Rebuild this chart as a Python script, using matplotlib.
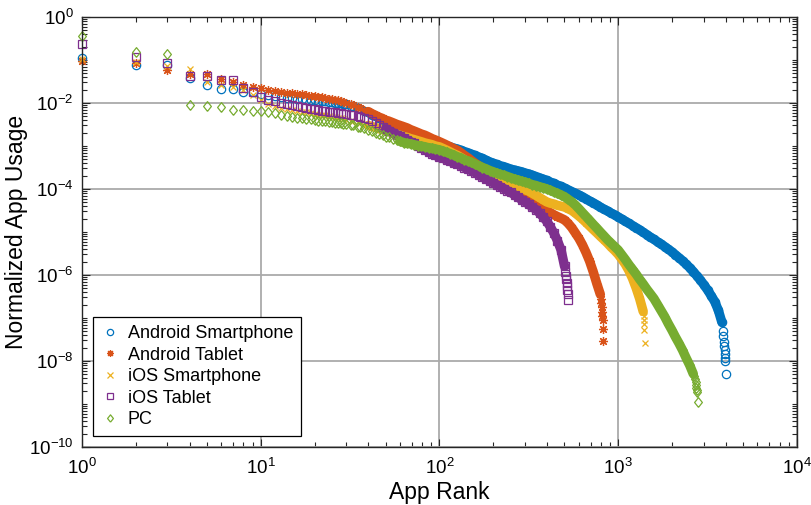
import numpy as np
import matplotlib
matplotlib.use('Agg')
import matplotlib.pyplot as plt
from matplotlib.ticker import LogLocator, FixedLocator, NullFormatter, LogFormatterSciNotation

plt.rcParams['font.family'] = ['Liberation Sans', 'DejaVu Sans']
plt.rcParams['mathtext.default'] = 'regular'
plt.rcParams['axes.unicode_minus'] = False

#%% Data (usage kept as log10 exponents)
# ranks 1..30 shown one by one, beyond that the curves are sampled
head_rank = list(range(1, 31))
grid_rank = [32, 33, 35, 36, 38, 40, 42, 44, 46, 48, 50, 52, 55, 58, 60, 63, 66, 69, 72, 76, 79, 83, 87, 91, 95,
             100, 105, 110, 115, 120, 126, 132, 138, 145, 151, 158, 166, 174, 182, 191, 200, 209, 219, 229, 240,
             251, 263, 275, 288, 302, 316, 331, 347, 363, 380, 398, 417, 437, 457, 479, 501, 525, 550, 575, 603,
             631, 661, 692, 724, 759, 794, 832, 871, 912, 955, 1000, 1047, 1096, 1148, 1202, 1259, 1318, 1380,
             1445, 1514, 1585, 1660, 1738, 1820, 1905, 1995, 2089, 2188, 2291, 2399, 2512, 2630, 2754, 2884,
             3020, 3162, 3311, 3467, 3631, 3802]

# Android Smartphone
as_head = [-0.95, -1.12, -1.12, -1.41, -1.58, -1.67, -1.67, -1.74, -1.75, -1.79,
           -1.82, -1.84, -1.86, -1.88, -1.89, -1.90, -1.91, -1.92, -1.93, -1.94,
           -1.95, -1.96, -1.96, -1.97, -1.98, -1.99, -2.00, -2.01, -2.02, -2.03]
as_grid = [-2.06, -2.08, -2.12, -2.14, -2.18, -2.22, -2.27, -2.31, -2.35, -2.39,
           -2.43, -2.46, -2.50, -2.54, -2.56, -2.60, -2.64, -2.67, -2.70, -2.75,
           -2.78, -2.81, -2.85, -2.88, -2.91,
           -2.95, -2.97, -3.00, -3.02, -3.05, -3.07, -3.10, -3.13, -3.16, -3.19,
           -3.22, -3.26, -3.29, -3.33, -3.37, -3.40, -3.43, -3.46, -3.48, -3.51,
           -3.54, -3.56, -3.58, -3.60, -3.63, -3.65, -3.68, -3.71, -3.74, -3.77,
           -3.80, -3.84, -3.87, -3.91, -3.94, -3.98, -4.02, -4.06, -4.10, -4.14,
           -4.18, -4.23, -4.28, -4.32, -4.37, -4.42, -4.47, -4.51, -4.56, -4.60,
           -4.65, -4.70, -4.75, -4.80, -4.85, -4.90, -4.95, -5.01, -5.06, -5.12,
           -5.17, -5.23, -5.28, -5.34, -5.40, -5.46, -5.53, -5.60, -5.67, -5.75,
           -5.83, -5.92, -6.02, -6.12, -6.23, -6.35, -6.48, -6.62, -6.82, -7.10]
as_tail_rank = [3850, 3880, 3905, 3925, 3940, 3955, 3965, 3975, 3990]
as_tail = [-7.30, -7.42, -7.55, -7.65, -7.75, -7.83, -7.92, -8.00, -8.30]

# Android Tablet
at_head = [-1.03, -1.08, -1.23, -1.33, -1.33, -1.45, -1.50, -1.58, -1.62, -1.66,
           -1.69, -1.72, -1.74, -1.76, -1.77, -1.79, -1.80, -1.82, -1.83, -1.84,
           -1.86, -1.87, -1.88, -1.90, -1.91, -1.93, -1.94, -1.96, -1.98, -2.00]
at_grid = [-2.03, -2.05, -2.09, -2.12, -2.16, -2.20, -2.25, -2.29, -2.33, -2.36,
           -2.40, -2.42, -2.46, -2.50, -2.52, -2.55, -2.58, -2.62, -2.65, -2.69,
           -2.72, -2.75, -2.79, -2.83, -2.86,
           -2.90, -2.94, -2.98, -3.02, -3.06, -3.10, -3.16, -3.22, -3.28, -3.34,
           -3.40, -3.46, -3.51, -3.57, -3.62, -3.68, -3.73, -3.79, -3.84, -3.90,
           -3.95, -4.00, -4.06, -4.11, -4.17, -4.22, -4.28, -4.33, -4.39, -4.44,
           -4.50, -4.55, -4.60, -4.64, -4.68, -4.72, -4.80, -4.90, -5.02, -5.15,
           -5.30, -5.48, -5.68, -5.92, -6.20, -6.45]
at_tail_rank = [802, 806, 809, 812, 815, 818, 821, 825]
at_tail = [-6.55, -6.65, -6.75, -6.85, -6.95, -7.05, -7.26, -7.53]

# iOS Smartphone
is_head = [-0.98, -1.05, -1.15, -1.22, -1.50, -1.58, -1.62, -1.70, -1.82, -1.93,
           -2.02, -2.08, -2.12, -2.15, -2.17, -2.19, -2.21, -2.22, -2.24, -2.25,
           -2.27, -2.28, -2.29, -2.31, -2.32, -2.33, -2.35, -2.36, -2.38, -2.39]
is_grid = [-2.41, -2.42, -2.45, -2.47, -2.50, -2.52, -2.55, -2.57, -2.60, -2.62,
           -2.64, -2.66, -2.70, -2.73, -2.75, -2.78, -2.80, -2.83, -2.85, -2.88,
           -2.90, -2.93, -2.95, -2.97, -3.00,
           -3.02, -3.06, -3.10, -3.14, -3.18, -3.22, -3.27, -3.32, -3.38, -3.43,
           -3.48, -3.53, -3.58, -3.63, -3.68, -3.72, -3.75, -3.79, -3.82, -3.85,
           -3.88, -3.92, -3.95, -3.99, -4.02, -4.05, -4.10, -4.15, -4.20, -4.25,
           -4.30, -4.33, -4.35, -4.38, -4.40, -4.42, -4.46, -4.50, -4.56, -4.63,
           -4.70, -4.78, -4.86, -4.94, -5.02, -5.10, -5.18, -5.26, -5.35, -5.43,
           -5.52, -5.63, -5.75, -5.90, -6.08, -6.30, -6.55, -6.85]
is_tail_rank = [1388, 1394, 1398, 1402, 1412]
is_tail = [-6.95, -7.05, -7.15, -7.28, -7.59]

# iOS Tablet
it_head = [-0.635, -0.92, -1.06, -1.37, -1.38, -1.47, -1.47, -1.64, -1.74, -1.85,
           -1.93, -1.95, -2.00, -2.03, -2.05, -2.08, -2.10, -2.12, -2.14, -2.15,
           -2.16, -2.18, -2.19, -2.20, -2.21, -2.22, -2.23, -2.24, -2.25, -2.26]
it_grid = [-2.28, -2.29, -2.31, -2.32, -2.35, -2.38, -2.42, -2.46, -2.51, -2.55,
           -2.60, -2.64, -2.69, -2.74, -2.77, -2.82, -2.86, -2.90, -2.94, -3.00,
           -3.04, -3.09, -3.14, -3.18, -3.22,
           -3.26, -3.29, -3.32, -3.36, -3.39, -3.42, -3.46, -3.50, -3.54, -3.58,
           -3.62, -3.67, -3.72, -3.77, -3.81, -3.86, -3.90, -3.95, -3.99, -4.04,
           -4.08, -4.14, -4.19, -4.25, -4.30, -4.36, -4.42, -4.48, -4.56, -4.65,
           -4.75, -4.88, -5.03, -5.20, -5.42, -5.80]
it_tail_rank = [505, 508, 511, 514, 517, 520, 523, 526]
it_tail = [-5.92, -6.02, -6.10, -6.18, -6.26, -6.34, -6.45, -6.58]

# PC
pc_head = [-0.44, -0.81, -0.87, -2.05, -2.07, -2.09, -2.16, -2.17, -2.18, -2.19,
           -2.21, -2.24, -2.27, -2.30, -2.32, -2.34, -2.35, -2.37, -2.38, -2.39,
           -2.41, -2.42, -2.43, -2.44, -2.45, -2.46, -2.46, -2.47, -2.48, -2.49]
pc_grid = [-2.50, -2.52, -2.55, -2.56, -2.59, -2.62, -2.66, -2.69, -2.72, -2.75,
           -2.78, -2.80, -2.84, -2.87, -2.89, -2.92, -2.94, -2.95, -2.97, -2.99,
           -3.00, -3.02, -3.04, -3.05, -3.07,
           -3.09, -3.12, -3.15, -3.18, -3.21, -3.25, -3.28, -3.32, -3.35, -3.38,
           -3.42, -3.46, -3.50, -3.53, -3.57, -3.60, -3.63, -3.66, -3.68, -3.71,
           -3.74, -3.77, -3.79, -3.82, -3.84, -3.87, -3.90, -3.92, -3.95, -3.97,
           -4.00, -4.03, -4.07, -4.10, -4.14, -4.18, -4.24, -4.30, -4.37, -4.46,
           -4.55, -4.64, -4.73, -4.82, -4.91, -5.00, -5.09, -5.18, -5.26, -5.34,
           -5.42, -5.53, -5.64, -5.76, -5.87, -5.98, -6.10, -6.21, -6.33, -6.44,
           -6.55, -6.69, -6.83, -6.97, -7.13, -7.28, -7.44, -7.59, -7.75, -7.93,
           -8.10, -8.30]
pc_tail_rank = [2660, 2690, 2710, 2725, 2740, 2755, 2770, 2805]
pc_tail = [-8.35, -8.42, -8.50, -8.57, -8.63, -8.68, -8.72, -8.95]

#%% Series styles (MATLAB default colours)
# band_from: rank where thousands of overlapping markers turn into a solid band
diamond = [(0, -1), (0.8, 0), (0, 1), (-0.8, 0), (0, -1)]
series = [
    ('Android Smartphone', as_head, as_grid, as_tail_rank, as_tail, '#0072BD', 'o', 6.0, 40),
    ('Android Tablet',     at_head, at_grid, at_tail_rank, at_tail, '#D95319', (8, 2, 0), 6.5, 40),
    ('iOS Smartphone',     is_head, is_grid, is_tail_rank, is_tail, '#EDB120', 'x', 5.0, 40),
    ('iOS Tablet',         it_head, it_grid, it_tail_rank, it_tail, '#7E2F8E', 's', 5.2, 50),
    ('PC',                 pc_head, pc_grid, pc_tail_rank, pc_tail, '#77AC30', diamond, 7.0, 60),
]

fig = plt.figure(figsize=(8.11, 5.05), dpi=100)
ax = fig.add_axes([0.1011, 0.1149, 0.8816, 0.8514])

for name, head, grid, t_rank, tail, col, mk, ms, band_from in series:
    g_rank = grid_rank[:len(grid)]
    ranks = head_rank + g_rank + t_rank
    usage = 10.0 ** np.array(head + grid + tail)
    # dense part of the curve
    b_rank = [r for r in g_rank if r >= band_from]
    b_use = 10.0 ** np.array(grid[len(g_rank) - len(b_rank):])
    ax.plot(b_rank, b_use, color=col, linewidth=6.8, solid_capstyle='round',
            solid_joinstyle='round')
    ax.plot(ranks, usage, linestyle='none', marker=mk, markersize=ms,
            markerfacecolor='none', markeredgecolor=col, markeredgewidth=0.9,
            clip_on=False, label=name)

ax.set_xscale('log')
ax.set_yscale('log')
ax.set_xlim(1, 1e4)
ax.set_ylim(1e-10, 1)

ax.xaxis.set_major_locator(FixedLocator([1, 10, 100, 1000, 10000]))
ax.yaxis.set_major_locator(FixedLocator(10.0 ** np.arange(-10, 1, 2)))
ax.xaxis.set_major_formatter(LogFormatterSciNotation())
ax.yaxis.set_major_formatter(LogFormatterSciNotation())
ax.xaxis.set_minor_locator(LogLocator(base=10, subs=np.arange(2, 10), numticks=100))
ax.yaxis.set_minor_locator(LogLocator(base=10, subs=np.arange(1, 10), numticks=100))
ax.xaxis.set_minor_formatter(NullFormatter())
ax.yaxis.set_minor_formatter(NullFormatter())

ax.grid(True, which='major', color='#aaaaaa', linewidth=1.3)
ax.set_axisbelow(True)
ax.tick_params(which='both', direction='in', top=True, right=True, width=0.8, color='#262626')
ax.tick_params(which='major', length=6, labelsize=13.5)
ax.tick_params(axis='x', which='major', pad=8)
ax.tick_params(axis='y', which='major', pad=6)
ax.tick_params(which='minor', length=3.5)
for sp in ax.spines.values():
    sp.set_linewidth(1.0)
    sp.set_color('#262626')

ax.set_xlabel('App Rank', fontsize=16.5, labelpad=2)
ax.set_ylabel('Normalized App Usage', fontsize=16.5)
ax.yaxis.set_label_coords(-0.076, 0.5)

leg = ax.legend(loc='lower left', bbox_to_anchor=(0.015, 0.025), borderaxespad=0,
                fontsize=13, fancybox=False, framealpha=1, edgecolor='black',
                handlelength=1.0, handletextpad=0.5, labelspacing=0.25,
                borderpad=0.45, markerscale=0.75)
leg.get_frame().set_linewidth(0.9)

fig.savefig('out.png', dpi=100)
